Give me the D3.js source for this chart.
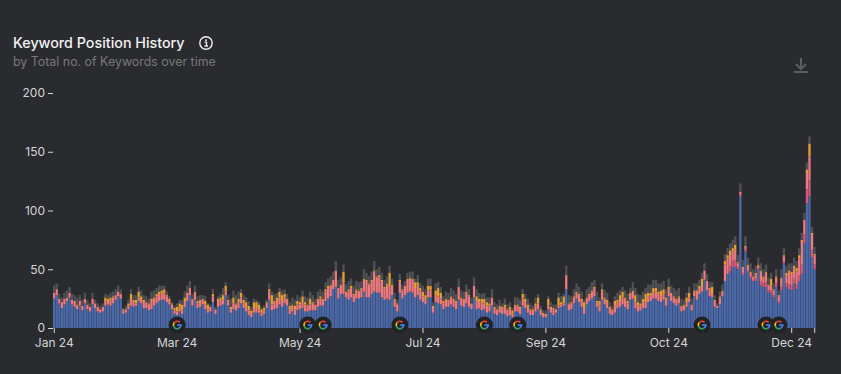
<!DOCTYPE html>
<meta charset="utf-8">
<script src="https://d3js.org/d3.v7.js"></script>
<style>
  body { margin: 0; background: #2a2b2f; }
  text { font-family: Inter, "Noto Sans", sans-serif; }
</style>
<div id="my_dataviz"></div>
<script>
// values, 12 bars to a row
const blue = [
  25,28,21,17,20,23,26,20,18,16,19,15,
  21,16,14,20,17,14,13,14,19,20,19,21,
  24,27,25,12,13,16,19,18,19,23,21,17,
  17,15,16,19,21,23,24,24,22,20,16,12,
  11,14,12,18,23,28,19,24,17,18,20,16,
  13,14,22,12,18,19,20,28,19,13,16,15,
  17,21,17,14,11,9,13,13,13,10,12,17,
  24,15,16,17,20,18,21,19,12,14,11,15,
  16,17,14,14,15,15,15,18,19,19,23,25,
  27,33,35,25,29,29,26,24,26,22,25,25,
  26,31,26,26,29,31,30,30,26,24,25,24,
  28,18,14,30,25,28,30,31,30,26,28,24,
  22,20,26,26,13,22,21,20,16,18,18,20,
  18,16,24,19,18,21,18,16,26,16,17,15,
  16,13,14,19,12,11,13,12,12,10,11,9,
  14,14,12,19,17,13,11,11,14,16,11,9,
  9,16,13,11,13,17,18,19,33,15,16,21,
  25,22,18,12,20,23,25,27,18,14,24,20,
  17,12,11,13,17,18,20,18,16,24,25,17,
  14,15,17,17,22,23,25,25,23,22,24,19,
  27,23,21,19,21,14,15,18,22,15,27,24,
  29,31,41,32,27,26,18,17,20,27,40,46,
  48,52,52,50,112,45,65,47,42,40,40,50,
  36,35,35,30,30,26,35,21,32,55,35,33,
  32,38,33,40,46,72,106,112,60,50]
const pink = [
  5,5,4,5,5,3,4,4,5,3,4,4,
  4,4,4,5,4,4,3,4,4,2,5,5,
  4,4,4,3,3,3,5,4,2,3,3,5,
  5,5,7,6,6,6,5,6,5,3,4,3,
  3,3,3,5,6,6,5,6,4,5,4,4,
  3,4,5,4,5,5,4,3,4,3,5,5,
  5,5,4,4,4,3,4,4,3,3,3,4,
  7,5,6,6,6,5,5,5,4,5,5,5,
  4,5,6,5,5,6,5,6,6,5,8,9,
  9,8,14,9,7,10,5,7,8,6,7,6,
  7,10,14,11,11,17,13,13,14,10,12,11,
  8,6,6,10,7,7,11,11,11,8,8,8,
  5,4,6,6,4,6,6,5,5,6,5,6,
  6,6,11,6,6,9,9,5,10,7,6,7,
  5,6,5,6,5,4,5,5,6,5,5,3,
  5,5,5,6,5,5,4,4,5,5,4,3,
  2,3,4,5,3,2,2,2,12,5,5,5,
  5,6,5,5,5,5,6,7,4,5,7,5,
  5,5,4,6,5,5,6,7,5,5,6,5,
  5,4,5,5,5,5,5,6,6,5,5,5,
  6,6,5,5,5,4,4,4,4,4,4,6,
  5,4,8,8,6,3,5,2,6,4,14,13,
  9,8,9,3,2,4,2,4,3,2,4,2,
  8,5,8,4,4,4,5,4,7,4,6,10,
  10,9,11,14,20,12,14,20,14,8]
// darker pink only shows in the late bars, starts at roseStart
const roseStart = 264
const rose = [
  5,5,6,2,2,2,2,2,2,1,2,1,
  4,3,4,2,2,2,3,2,3,2,3,4,
  4,4,4,5,8,8,12,14,6,4]
const orange = [
  0,0,0,0,0,0,0,0,0,1,0,0,
  0,0,0,0,0,0,0,0,3,3,2,1,
  0,0,0,1,0,2,5,2,3,5,3,2,
  0,1,2,1,2,2,3,3,1,2,1,2,
  4,4,5,3,1,0,1,1,2,1,1,3,
  4,0,2,0,2,2,4,5,1,2,5,1,
  3,4,3,4,4,3,5,5,4,3,2,1,
  2,8,1,3,5,5,3,1,3,1,3,3,
  2,5,2,1,5,1,0,1,2,1,2,2,
  1,0,0,0,1,9,0,2,2,1,1,1,
  1,1,1,1,1,1,1,2,1,1,1,12,
  1,1,1,1,1,1,1,1,1,5,3,2,
  4,4,4,4,2,4,7,5,2,1,1,1,
  1,1,0,1,1,1,1,0,0,4,2,3,
  4,3,2,1,1,1,1,1,2,1,2,3,
  1,1,1,4,3,2,1,1,2,5,1,1,
  1,6,1,1,0,7,2,6,0,1,1,1,
  1,1,2,5,1,1,1,1,1,4,2,1,
  2,1,1,4,2,5,5,1,2,1,1,6,
  3,2,3,7,3,2,4,3,2,5,4,2,
  2,1,1,1,1,1,1,4,4,1,1,2,
  2,7,0,0,1,6,1,0,1,1,3,3,
  4,3,4,1,0,1,1,1,1,1,1,1,
  1,1,1,1,6,1,1,1,1,1,3,2,
  2,2,3,3,1,0,3,11,1,1]
const grey = [
  6,5,4,4,5,6,5,5,5,6,5,5,
  5,4,3,5,3,3,3,3,3,3,4,4,
  5,5,4,1,3,3,4,4,4,4,5,4,
  5,4,6,6,5,5,4,3,3,2,1,2,
  3,3,4,5,6,6,4,5,4,4,3,4,
  1,2,4,2,2,3,6,3,4,7,6,7,
  6,3,4,4,4,3,3,2,2,2,2,2,
  5,3,6,4,3,4,4,4,3,6,5,5,
  4,5,5,6,6,6,5,6,6,6,6,6,
  7,7,8,7,6,6,6,7,6,7,7,7,
  6,8,6,6,7,8,6,7,6,6,6,6,
  5,5,3,5,4,4,5,5,6,3,6,4,
  5,5,6,6,3,6,5,5,4,6,6,7,
  7,6,7,6,6,6,5,5,7,6,5,4,
  5,4,5,7,4,4,5,3,5,4,4,2,
  6,6,6,4,4,5,5,3,5,3,3,2,
  3,2,4,3,4,4,5,2,8,7,5,6,
  7,6,6,2,7,6,7,6,8,3,5,6,
  6,4,3,4,6,4,4,6,6,4,7,6,
  7,7,6,5,7,7,7,7,7,6,7,7,
  7,6,7,7,7,6,4,4,5,5,6,6,
  5,5,6,6,5,4,4,2,4,5,6,6,
  6,7,7,6,7,6,8,6,7,6,6,6,
  6,6,6,6,5,5,6,4,7,6,6,6,
  7,7,6,6,6,6,6,6,5,6]

const seriesNames = ["blue", "rose", "pink", "orange", "grey"]
const seriesColors = ["#4b69a9", "#d5587e", "#ec7a82", "#e5a034", "#505155"]
const xTickBars = [0, 48, 96, 144, 192, 240, 288, 297]
const xTickLabels = ["Jan 24", "Mar 24", "May 24", "Jul 24", "Sep 24", "Oct 24", "Dec 24", ""]
const yTicks = [0, 50, 100, 150, 200]
// bars that carry a google update marker
const updateBars = [48, 99, 105, 135, 168, 181, 253, 278, 283]

const width = 841, height = 374
const margin = {top: 93, right: 25, bottom: 46, left: 53}

const rows = blue.map((d, i) => ({
  i: i, blue: d, rose: rose[i - roseStart] || 0, pink: pink[i], orange: orange[i], grey: grey[i]
}))

const svg = d3.select("#my_dataviz")
  .append("svg")
    .attr("width", width)
    .attr("height", height)
    .style("display", "block")

const x = d3.scaleBand()
  .domain(rows.map(d => d.i))
  .range([margin.left, width - margin.right])

const y = d3.scaleLinear()
  .domain([0, 200])
  .range([height - margin.bottom, margin.top])

const color = d3.scaleOrdinal().domain(seriesNames).range(seriesColors)

// slight blur, the reference is a soft screenshot
svg.append("defs").append("filter").attr("id", "soft")
  .append("feGaussianBlur").attr("stdDeviation", 0.55)

// Stacked bars
svg.append("g")
  .attr("filter", "url(#soft)")
  .selectAll("g")
  .data(d3.stack().keys(seriesNames)(rows))
  .join("g")
    .attr("fill", d => color(d.key))
  .selectAll("rect")
  .data(d => d)
  .join("rect")
    .attr("x", d => x(d.data.i))
    .attr("y", d => y(d[1]))
    .attr("width", x.bandwidth() - 0.25)
    .attr("height", d => y(d[0]) - y(d[1]))

// Axes
const yAxis = svg.append("g")
  .attr("transform", `translate(${margin.left},0)`)
  .call(d3.axisLeft(y).tickValues(yTicks).tickSize(5).tickPadding(3))
const xAxis = svg.append("g")
  .attr("transform", `translate(0,${height - margin.bottom})`)
  .call(d3.axisBottom(x).tickValues(xTickBars).tickFormat((d, i) => xTickLabels[i]).tickSize(5).tickPadding(5))
for (const axis of [yAxis, xAxis]) {
  axis.select(".domain").remove()
  axis.selectAll("line").attr("stroke", "#d8d8d8")
  axis.selectAll("text").attr("fill", "#d4d5d6").style("font-size", "12px")
}

// Google update markers
const gArc = d3.arc().innerRadius(2.9).outerRadius(4.6)
const gParts = [
  {c: "#ea4335", a0: -0.85, a1: 0.75},
  {c: "#fbbc05", a0: -1.9, a1: -0.85},
  {c: "#34a853", a0: -3.6, a1: -1.9},
  {c: "#4285f4", a0: 1.57, a1: 2.65}
]
const marks = svg.append("g").selectAll("g")
  .data(updateBars)
  .join("g")
    .attr("transform", d => `translate(${x(d) + x.bandwidth() / 2},${y(0) - 3})`)
marks.append("circle").attr("r", 8.5).attr("fill", "#222327")
marks.selectAll("path")
  .data(gParts)
  .join("path")
    .attr("d", d => gArc({startAngle: d.a0, endAngle: d.a1}))
    .attr("fill", d => d.c)
marks.append("rect").attr("x", 0).attr("y", -0.8).attr("width", 4.6).attr("height", 1.6).attr("fill", "#4285f4")

// Title block
svg.append("text").attr("x", 13).attr("y", 48)
  .attr("fill", "#f2f2f2").style("font-size", "14.3px").style("font-weight", 500)
  .text("Keyword Position History")
svg.append("text").attr("x", 13).attr("y", 66)
  .attr("fill", "#77787c").style("font-size", "12.4px")
  .text("by Total no. of Keywords over time")

// Info icon
const info = svg.append("g").attr("transform", "translate(206,43)")
info.append("circle").attr("r", 6.2).attr("fill", "none").attr("stroke", "#f0f0f0").attr("stroke-width", 1.4)
info.append("circle").attr("cy", -2.8).attr("r", 0.9).attr("fill", "#f0f0f0")
info.append("path").attr("d", "M-1.4,-0.8H0.5V2.7M-1.5,3H2").attr("fill", "none").attr("stroke", "#f0f0f0").attr("stroke-width", 1.3)

// Download icon
svg.append("path").attr("transform", "translate(801,65)")
  .attr("d", "M0,-7V4M-5,-1L0,4L5,-1M-7,7H7")
  .attr("fill", "none").attr("stroke", "#5d5e61").attr("stroke-width", 2)
</script>
